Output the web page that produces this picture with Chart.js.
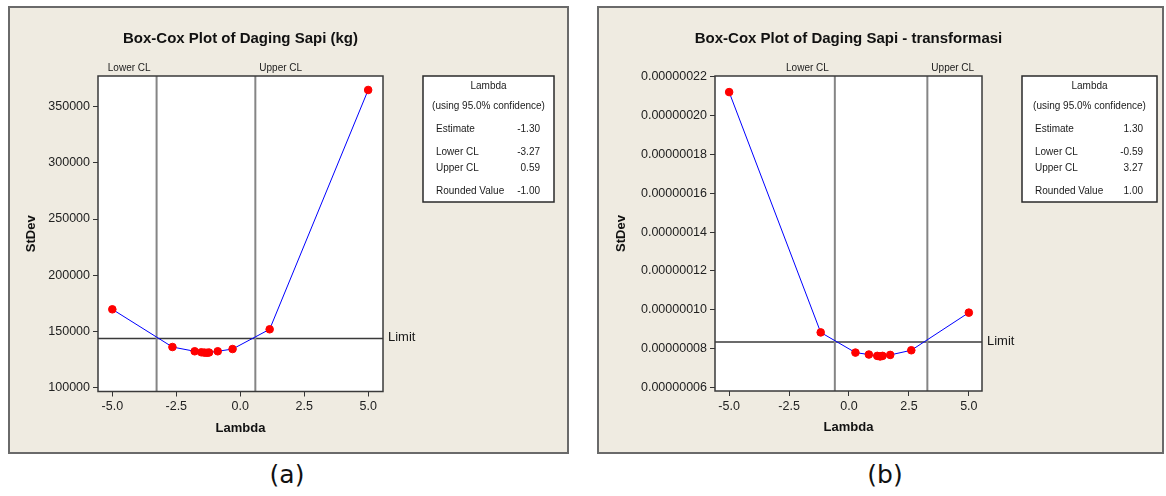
<!DOCTYPE html>
<html>
<head>
<meta charset="utf-8">
<script src="https://cdn.jsdelivr.net/npm/chart.js@4.4.1/dist/chart.umd.min.js"></script>
<style>
    body {
        margin: 0;
        width: 1166px;
        height: 496px;
        background: #ffffff;
        position: relative;
        overflow: hidden;
    }
    .panel {
        position: absolute;
        background: #efebe1;
        border: 2px solid #6a6a6a;
        box-sizing: border-box;
    }
    canvas {
        position: absolute;
    }
    .caption {
        position: absolute;
        width: 80px;
        text-align: center;
        font-family: "DejaVu Sans", Verdana, sans-serif;
        font-size: 25px;
        line-height: 32px;
        color: #111;
    }
</style>
</head>
<body>
<div class="panel" style="left:8px; top:6px; width:561px; height:448px;"></div>
<div class="panel" style="left:597px; top:6px; width:567px; height:448px;"></div>
<canvas id="chartA" width="560" height="447" style="left:8px; top:7px;"></canvas>
<canvas id="chartB" width="565" height="446" style="left:598px; top:7px;"></canvas>
<div class="caption" style="left:247px; top:459px;">(a)</div>
<div class="caption" style="left:845px; top:459px;">(b)</div>

<script>
// Box-Cox curve (a): lambda vs StDev
const lambdaA = [-5.0, -2.65, -1.78, -1.52, -1.40, -1.30, -1.22, -0.88, -0.30, 1.15, 5.0];
const stdevA = [169500, 135900, 132100, 131200, 130900, 130800, 131000, 132100, 134100, 151700, 365000];

// Box-Cox curve (b): transformed data
const lambdaB = [-5.0, -1.18, 0.27, 0.83, 1.18, 1.30, 1.40, 1.72, 2.60, 5.0];
const stdevB = [0.0000002122, 0.0000000883, 0.0000000779, 0.0000000769, 0.0000000762, 0.0000000759, 0.0000000762, 0.0000000767, 0.0000000791, 0.0000000985];

// tick labels
const xTicks = [-5, -2.5, 0, 2.5, 5];
const yTicksA = [100000, 150000, 200000, 250000, 300000, 350000];
const yTicksB = [0.00000006, 0.00000008, 0.0000001, 0.00000012, 0.00000014, 0.00000016, 0.00000018, 0.0000002, 0.00000022];

// confidence limits and limit line
const clA = [-3.27, 0.59];
const clB = [-0.59, 3.27];
const limitA = 143500;
const limitB = 0.0000000834;

// lambda info box
const infoLabels = ['Estimate', 'Lower CL', 'Upper CL', 'Rounded Value'];
const infoA = ['-1.30', '-3.27', '0.59', '-1.00'];
const infoB = ['1.30', '-0.59', '3.27', '1.00'];

const FONT = '"Liberation Sans", Arial, sans-serif';

function makeBoxCox(canvasId, cfg) {
    const plot = cfg.plot;

    // Draws the white plot area, frame, title, CL / Limit labels and the info box
    const decor = {
        id: 'decor' + canvasId,
        beforeDraw(chart) {
            const { ctx, chartArea: a } = chart;
            ctx.save();
            ctx.fillStyle = '#ffffff';
            ctx.fillRect(a.left, a.top, a.right - a.left, a.bottom - a.top);
            ctx.restore();
        },
        afterDatasetsDraw(chart) {
            const { ctx, chartArea: a } = chart;
            ctx.save();
            ctx.strokeStyle = '#3a3a3a';
            ctx.lineWidth = 1.5;
            ctx.strokeRect(a.left, a.top, a.right - a.left, a.bottom - a.top);
            ctx.restore();
        },
        afterDraw(chart) {
            const { ctx, chartArea: a, scales } = chart;
            ctx.save();
            ctx.fillStyle = '#111';

            // title, centred over the plot area
            ctx.font = 'bold 15px ' + FONT;
            ctx.textAlign = 'center';
            ctx.textBaseline = 'middle';
            ctx.fillText(cfg.title, (a.left + a.right) / 2, 32);

            // CL labels above the plot
            ctx.fillStyle = '#1a1a1a';
            ctx.font = '10px ' + FONT;
            ctx.textAlign = 'right';
            ctx.fillText('Lower CL', scales.x.getPixelForValue(cfg.cl[0]) - 6, a.top - 8);
            ctx.textAlign = 'left';
            ctx.fillText('Upper CL', scales.x.getPixelForValue(cfg.cl[1]) + 4, a.top - 8);

            // Limit label
            ctx.font = '13px ' + FONT;
            ctx.fillText('Limit', a.right + 5, scales.y.getPixelForValue(cfg.limit) - 1);

            // info box
            const bx = cfg.box.x, by = a.top, bw = cfg.box.w, bh = 126;
            ctx.fillStyle = '#ffffff';
            ctx.fillRect(bx, by, bw, bh);
            ctx.strokeStyle = '#2a2a2a';
            ctx.lineWidth = 1.5;
            ctx.strokeRect(bx, by, bw, bh);
            ctx.fillStyle = '#1a1a1a';
            ctx.font = '10px ' + FONT;
            ctx.textAlign = 'center';
            ctx.fillText('Lambda', bx + bw / 2, by + 10);
            ctx.fillText('(using 95.0% confidence)', bx + bw / 2, by + 30);
            const rows = [53, 76, 92, 115];
            infoLabels.forEach((lab, i) => {
                ctx.textAlign = 'left';
                ctx.fillText(lab, bx + 13, by + rows[i]);
                ctx.textAlign = 'right';
                ctx.fillText(cfg.info[i], bx + bw - 14, by + rows[i]);
            });
            ctx.restore();
        }
    };

    const ctx = document.getElementById(canvasId).getContext('2d');
    return new Chart(ctx, {
        type: 'scatter',
        data: {
            datasets: [
                {
                    label: 'StDev',
                    data: cfg.lambda.map((l, i) => ({ x: l, y: cfg.stdev[i] })),
                    showLine: true,
                    borderColor: '#0000ff',
                    borderWidth: 1,
                    pointRadius: 3.8,
                    pointBackgroundColor: '#ff0000',
                    pointBorderColor: '#ff0000',
                    pointBorderWidth: 1,
                    order: 0
                },
                {
                    label: 'Lower CL',
                    data: [{ x: cfg.cl[0], y: plot.yMin }, { x: cfg.cl[0], y: plot.yMax }],
                    showLine: true,
                    borderColor: '#858585',
                    borderWidth: 2,
                    pointRadius: 0,
                    order: 1
                },
                {
                    label: 'Upper CL',
                    data: [{ x: cfg.cl[1], y: plot.yMin }, { x: cfg.cl[1], y: plot.yMax }],
                    showLine: true,
                    borderColor: '#858585',
                    borderWidth: 2,
                    pointRadius: 0,
                    order: 1
                },
                {
                    label: 'Limit',
                    data: [{ x: plot.xMin, y: cfg.limit }, { x: plot.xMax, y: cfg.limit }],
                    showLine: true,
                    borderColor: '#3a3a3a',
                    borderWidth: 1.5,
                    pointRadius: 0,
                    order: 1
                }
            ]
        },
        options: {
            responsive: false,
            animation: false,
            events: [],
            layout: {
                padding: { top: 69, right: cfg.padRight, bottom: 0, left: 0 }
            },
            plugins: {
                legend: { display: false },
                tooltip: { enabled: false },
                title: { display: false }
            },
            scales: {
                x: {
                    type: 'linear',
                    min: plot.xMin,
                    max: plot.xMax,
                    afterBuildTicks: scale => { scale.ticks = xTicks.map(v => ({ value: v })); },
                    afterFit: scale => { scale.height = cfg.xHeight; },
                    ticks: {
                        color: '#222',
                        padding: 3,
                        font: { family: FONT, size: 12.5 },
                        callback: v => v.toFixed(1)
                    },
                    grid: { drawOnChartArea: false, drawTicks: true, tickLength: 5, color: '#333' },
                    border: { display: false },
                    title: {
                        display: true,
                        text: 'Lambda',
                        color: '#111',
                        font: { family: FONT, size: 13, weight: 'bold' },
                        padding: { top: 0, bottom: 18 }
                    }
                },
                y: {
                    type: 'linear',
                    min: plot.yMin,
                    max: plot.yMax,
                    afterBuildTicks: scale => { scale.ticks = cfg.yTicks.map(v => ({ value: v })); },
                    afterFit: scale => { scale.width = cfg.yWidth; },
                    ticks: {
                        color: '#222',
                        padding: 3,
                        font: { family: FONT, size: 12.5 },
                        callback: cfg.yFormat
                    },
                    grid: { drawOnChartArea: false, drawTicks: true, tickLength: 5, color: '#333' },
                    border: { display: false },
                    title: {
                        display: true,
                        text: 'StDev',
                        color: '#111',
                        font: { family: FONT, size: 13, weight: 'bold' },
                        padding: { top: 16, bottom: 0 }
                    }
                }
            }
        },
        plugins: [decor]
    });
}

makeBoxCox('chartA', {
    title: 'Box-Cox Plot of Daging Sapi (kg)',
    lambda: lambdaA,
    stdev: stdevA,
    yTicks: yTicksA,
    yFormat: v => String(Math.round(v)),
    cl: clA,
    limit: limitA,
    info: infoA,
    plot: { xMin: -5.56, xMax: 5.58, yMin: 96260, yMax: 377450 },
    padRight: 185,
    yWidth: 90,
    xHeight: 62.5,
    box: { x: 415, w: 131 }
});

makeBoxCox('chartB', {
    title: 'Box-Cox Plot of Daging Sapi - transformasi',
    lambda: lambdaB,
    stdev: stdevB,
    yTicks: yTicksB,
    yFormat: v => v.toFixed(8),
    cl: clB,
    limit: limitB,
    info: infoB,
    plot: { xMin: -5.59, xMax: 5.55, yMin: 0.0000000581, yMax: 0.0000002205 },
    padRight: 181,
    yWidth: 117,
    xHeight: 62,
    box: { x: 424, w: 135 }
});
</script>
</body>
</html>
